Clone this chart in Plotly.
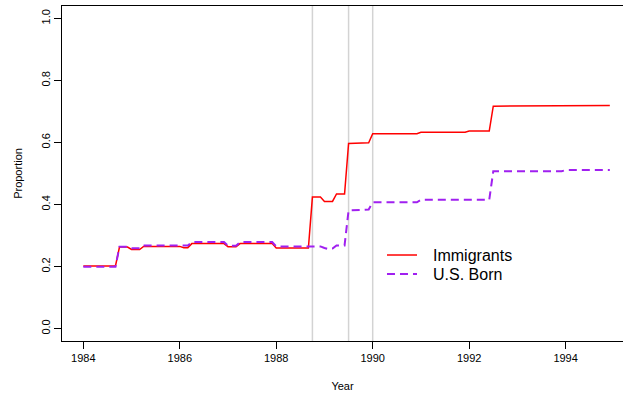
import plotly.graph_objects as go

# Monthly observations, January 1984 through December 1994
months = list(range(132))
year = [1984 + m / 12 for m in months]

# Proportion by month, one row per calendar year
immigrants = [
    0.202, 0.202, 0.202, 0.202, 0.202, 0.202, 0.202, 0.202, 0.202, 0.263, 0.263, 0.263,
    0.255, 0.255, 0.255, 0.265, 0.265, 0.265, 0.265, 0.265, 0.265, 0.265, 0.265, 0.265,
    0.265, 0.261, 0.261, 0.274, 0.274, 0.274, 0.274, 0.274, 0.274, 0.274, 0.274, 0.274,
    0.264, 0.264, 0.264, 0.274, 0.274, 0.274, 0.274, 0.274, 0.274, 0.274, 0.274, 0.274,
    0.260, 0.260, 0.260, 0.260, 0.260, 0.260, 0.260, 0.260, 0.260, 0.424, 0.424, 0.424,
    0.410, 0.410, 0.410, 0.434, 0.434, 0.434, 0.597, 0.597, 0.597, 0.598, 0.598, 0.599,
    0.628, 0.628, 0.628, 0.628, 0.628, 0.628, 0.628, 0.628, 0.628, 0.628, 0.628, 0.628,
    0.633, 0.633, 0.633, 0.633, 0.633, 0.633, 0.633, 0.633, 0.633, 0.633, 0.633, 0.633,
    0.637, 0.637, 0.637, 0.637, 0.637, 0.637, 0.717, 0.717, 0.717, 0.717, 0.717, 0.717,
    0.717, 0.717, 0.717, 0.717, 0.717, 0.717, 0.717, 0.717, 0.717, 0.717, 0.717, 0.717,
    0.719, 0.719, 0.719, 0.719, 0.719, 0.719, 0.719, 0.719, 0.719, 0.719, 0.719, 0.719,
]
us_born = [
    0.199, 0.199, 0.199, 0.199, 0.199, 0.199, 0.199, 0.199, 0.199, 0.264, 0.264, 0.264,
    0.259, 0.259, 0.259, 0.268, 0.268, 0.268, 0.268, 0.268, 0.268, 0.268, 0.268, 0.268,
    0.268, 0.268, 0.268, 0.279, 0.279, 0.279, 0.279, 0.279, 0.279, 0.279, 0.279, 0.279,
    0.267, 0.267, 0.267, 0.279, 0.279, 0.279, 0.279, 0.279, 0.279, 0.279, 0.279, 0.279,
    0.265, 0.265, 0.265, 0.265, 0.265, 0.265, 0.265, 0.265, 0.265, 0.265, 0.265, 0.265,
    0.260, 0.256, 0.258, 0.268, 0.268, 0.268, 0.381, 0.381, 0.382, 0.383, 0.383, 0.384,
    0.407, 0.407, 0.407, 0.407, 0.407, 0.407, 0.407, 0.407, 0.407, 0.407, 0.407, 0.407,
    0.415, 0.415, 0.415, 0.415, 0.415, 0.415, 0.415, 0.415, 0.415, 0.415, 0.415, 0.415,
    0.415, 0.415, 0.415, 0.415, 0.415, 0.415, 0.507, 0.507, 0.507, 0.507, 0.507, 0.507,
    0.507, 0.507, 0.507, 0.507, 0.507, 0.507, 0.507, 0.507, 0.507, 0.507, 0.507, 0.507,
    0.511, 0.511, 0.511, 0.511, 0.511, 0.511, 0.511, 0.511, 0.511, 0.511, 0.511, 0.511,
]

# Reference dates marked with vertical rules
event_years = [1988.75, 1989.5, 1990.0]

x_ticks = [1984, 1986, 1988, 1990, 1992, 1994]
y_ticks = [0.0, 0.2, 0.4, 0.6, 0.8, 1.0]
y_tick_labels = ["0.0", "0.2", "0.4", "0.6", "0.8", "1.0"]

series_names = ["Immigrants", "U.S. Born"]
series_colors = ["#ff0000", "#a020f0"]
series_widths = [1.5, 2]
series_dashes = ["solid", "8px,5px"]

FONT = "Liberation Sans, Arial, Helvetica, sans-serif"

fig = go.Figure()

for ev in event_years:
    fig.add_vline(x=ev, line=dict(color="#d3d3d3", width=1.5), layer="below")

for name, values, color, width, dash in zip(
        series_names, [immigrants, us_born], series_colors, series_widths, series_dashes):
    fig.add_trace(go.Scatter(
        x=year, y=values, mode="lines", name=name, showlegend=False,
        line=dict(color=color, width=width, dash=dash),
    ))

# Key in the lower right of the panel (paper coordinates of the plot area)
key_x0, key_x1, key_text_x = 0.5793, 0.6328, 0.6578
key_rows = [0.2567, 0.2000]
for name, color, width, dash, ky in zip(
        series_names, series_colors, series_widths, series_dashes, key_rows):
    fig.add_shape(
        type="line", xref="paper", yref="paper",
        x0=key_x0, x1=key_x1, y0=ky, y1=ky,
        line=dict(color=color, width=width, dash=dash),
    )
    fig.add_annotation(
        xref="paper", yref="paper", x=key_text_x, y=ky,
        text=name, showarrow=False, xanchor="left", yanchor="middle",
        font=dict(size=16, family=FONT, color="black"),
    )

fig.update_layout(
    width=623, height=396,
    margin=dict(l=62, r=0, t=6, b=55),
    paper_bgcolor="white", plot_bgcolor="white",
    font=dict(family=FONT, color="black", size=11),
    showlegend=False,
)

fig.update_xaxes(
    range=[1983.558, 1995.19],
    tickmode="array", tickvals=x_ticks, ticktext=[str(t) for t in x_ticks],
    ticks="outside", ticklen=7, tickwidth=1, tickcolor="black",
    showline=True, linecolor="black", linewidth=1, mirror=True,
    showgrid=False, zeroline=False,
    tickfont=dict(size=11),
    title=dict(text="Year", font=dict(size=11), standoff=19),
)
fig.update_yaxes(
    range=[-0.04, 1.04],
    tickmode="array", tickvals=y_ticks, ticktext=y_tick_labels,
    tickangle=-90,
    ticks="outside", ticklen=7, tickwidth=1, tickcolor="black",
    showline=True, linecolor="black", linewidth=1,
    showgrid=False, zeroline=False,
    tickfont=dict(size=11),
    title=dict(text="Proportion", font=dict(size=11), standoff=14),
)

fig.write_html("out.html")
